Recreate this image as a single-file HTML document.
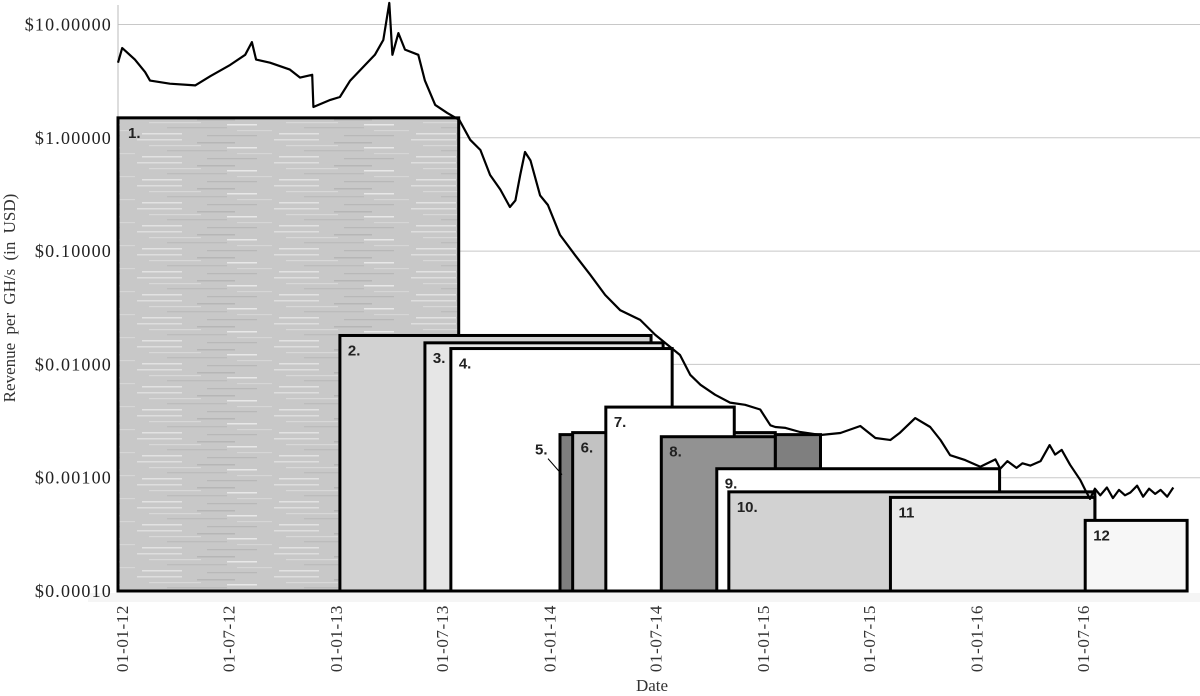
<!DOCTYPE html>
<html><head><meta charset="utf-8"><style>
html,body{margin:0;padding:0;background:#fff;}
svg{display:block;}
</style></head><body>
<svg id="chart" width="1200" height="696" viewBox="0 0 1200 696" xmlns="http://www.w3.org/2000/svg">
<defs>
<pattern id="tex" width="137" height="23" patternUnits="userSpaceOnUse">
<rect width="137" height="23" fill="#c8c8c8"/>
<rect x="0" y="1" width="45" height="1.5" fill="#dedede"/>
<rect x="60" y="4" width="38" height="1.5" fill="#b6b6b6"/>
<rect x="12" y="7" width="52" height="1.2" fill="#d8d8d8"/>
<rect x="90" y="9" width="30" height="1.5" fill="#e8e8e8"/>
<rect x="30" y="12" width="60" height="1.3" fill="#bcbcbc"/>
<rect x="100" y="15" width="35" height="1.2" fill="#d6d6d6"/>
<rect x="5" y="18" width="40" height="1.5" fill="#e2e2e2"/>
<rect x="70" y="20" width="50" height="1.2" fill="#b8b8b8"/>
</pattern>
</defs>
<g id="grid"></g>
<g id="boxes"></g>
<g id="line"></g>
<g id="axes"></g>
<text x="0" y="0" transform="translate(15,298) rotate(-90)" text-anchor="middle" font-family="Liberation Serif, serif" font-size="17" word-spacing="4" fill="#333">Revenue  per GH/s  (in USD)</text>
<text x="652" y="691" text-anchor="middle" font-family="Liberation Serif, serif" font-size="17" fill="#333">Date</text>
</svg>
<script>
const yTickValues=[10,1,0.1,0.01,0.001,0.0001];
const yTickLabels=["$10.00000","$1.00000","$0.10000","$0.01000","$0.00100","$0.00010"];
const xTickLabels=["01-01-12","01-07-12","01-01-13","01-07-13","01-01-14","01-07-14","01-01-15","01-07-15","01-01-16","01-07-16"];
const xTickDays=[0,182,366,547,731,912,1096,1277,1461,1643];
const dayIndex=[0,7,28,45,53,86,128,153,186,211,222,229,252,285,302,322,324,352,368,385,410,426,440,450,455,465,476,498,509,526,546,566,584,601,617,634,650,659,667,675,684,700,713,733,758,783,808,833,866,891,912,932,949,966,990,1015,1040,1065,1082,1090,1107,1131,1165,1198,1231,1256,1281,1297,1322,1347,1364,1380,1405,1430,1455,1463,1475,1490,1500,1513,1530,1545,1554,1565,1579,1596,1604,1612,1620,1629,1640,1650,1660,1670,1679,1690,1700,1710,1720,1729,1740,1750,1760,1775];
const revenue=[4.6,6.2,4.9,3.8,3.2,3.0,2.9,3.5,4.4,5.4,7.0,4.9,4.6,4.0,3.4,3.6,1.87,2.16,2.29,3.2,4.4,5.4,7.3,15.5,5.4,8.4,6.0,5.4,3.2,1.95,1.66,1.44,0.96,0.78,0.47,0.35,0.245,0.28,0.47,0.75,0.63,0.31,0.255,0.139,0.092,0.062,0.041,0.030,0.0247,0.0182,0.0148,0.0121,0.0081,0.0066,0.0054,0.0046,0.0044,0.0040,0.0029,0.0028,0.00275,0.00253,0.00238,0.00248,0.00286,0.00224,0.00215,0.0025,0.00336,0.0028,0.00215,0.00158,0.00143,0.00125,0.00145,0.0012,0.0014,0.00122,0.00134,0.00128,0.0014,0.00194,0.0016,0.00176,0.0013,0.00095,0.00078,0.00065,0.0008,0.0007,0.00082,0.00066,0.00078,0.0007,0.00074,0.00085,0.00068,0.0008,0.00072,0.00078,0.00068,0.00082];
const boxNames=["1.","2.","3.","4.","5.","6.","7.","8.","9.","10.","11","12"];
const boxStart=[0,368,509,552,733,754,809,901,993,1013,1281,1604];
const boxEnd=[565,884,904,919,1165,1090,1022,1090,1462,1620,1620,1773];
const boxTop=[1.5,0.018,0.0155,0.0138,0.0024,0.0025,0.0042,0.0023,0.0012,0.00075,0.00067,0.00042];
const boxFill=["url(#tex)","#d2d2d2","#e6e6e6","#ffffff","#7f7f7f","#c2c2c2","#ffffff","#929292","#ffffff","#d2d2d2","#e8e8e8","#f7f7f7"];
const NS="http://www.w3.org/2000/svg";
const X0=118,PXD=0.603,YB=591,DEC=113.3;
function xs(d){return X0+d*PXD;}
function ys(v){return YB-(Math.log10(v)+4)*DEC;}
function mk(tag,attrs,parent){const e=document.createElementNS(NS,tag);for(const k in attrs)e.setAttribute(k,attrs[k]);parent.appendChild(e);return e;}
const grid=document.getElementById('grid'),axes=document.getElementById('axes'),boxes=document.getElementById('boxes'),line=document.getElementById('line');
yTickValues.forEach((v,i)=>{
 const y=ys(v);
 if(i<yTickValues.length-1){const g=mk('line',{x1:X0,x2:1200,y1:y,y2:y,stroke:'#c8c8c8','stroke-width':1},grid);
 
 }
 const t=mk('text',{x:112,y:y+6,'text-anchor':'end','font-family':'Liberation Serif, serif','font-size':18,'letter-spacing':1.2,fill:'#222'},axes);
 t.textContent=yTickLabels[i];
 
 
});
const la=mk('line',{x1:X0,x2:X0,y1:5,y2:YB,stroke:'#bbb','stroke-width':1},grid);


xTickLabels.forEach((s,i)=>{
 const x=122+(xTickDays[i]/182.6)*106.8;
 const t=mk('text',{x:0,y:0,transform:`translate(${x+6},605) rotate(-90)`,'text-anchor':'end','font-family':'Liberation Serif, serif','font-size':17,'letter-spacing':0.6,fill:'#333'},axes);
 t.textContent=s;
 
 
});
const band=mk('rect',{x:X0-30,y:YB+2,width:1120,height:9,fill:'#f5f5f5'},grid);


let d='';
dayIndex.forEach((di,i)=>{d+=(i?'L':'M')+xs(di).toFixed(1)+','+ys(revenue[i]).toFixed(1);});
const p=mk('path',{d:d,fill:'none',stroke:'#000','stroke-width':2.2,'stroke-linejoin':'round'},line);


boxNames.forEach((n,i)=>{
 const x1=xs(boxStart[i]),x2=xs(boxEnd[i]),y1=ys(boxTop[i]);
 const r=mk('rect',{x:x1,y:y1,width:x2-x1,height:YB-y1,fill:boxFill[i],stroke:'#000','stroke-width':3},boxes);
 
 
 const lx=(i===4)?x1-25:x1+(i===0?10:8);
 const t=mk('text',{x:lx,y:y1+20,'font-family':'Liberation Sans, sans-serif','font-weight':'bold','font-size':15,fill:'#222'},boxes);
 t.textContent=n;
 
 
});
const lead=mk('line',{x1:xs(boxStart[4])-12,y1:ys(boxTop[4])+24,x2:xs(boxStart[4])+2,y2:ys(boxTop[4])+40,stroke:'#000','stroke-width':1},boxes);


document.getElementById('chart').appendChild(line);
</script>
</body></html>
